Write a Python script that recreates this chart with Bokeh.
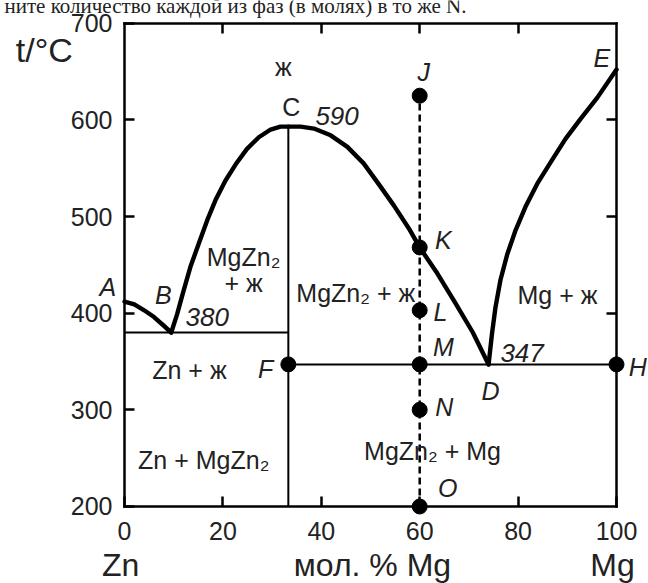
from bokeh.plotting import figure
from bokeh.models import Range1d, LinearAxis, FixedTicker, Label
from bokeh.embed import file_html
from bokeh.resources import INLINE

# ---- data (mol. % Mg, t / °C) ----
x_ticks = [0, 20, 40, 60, 80, 100]
t_ticks = [200, 300, 400, 500, 600, 700]
top_ticks = [20, 40, 60, 80]
right_ticks = [400, 500, 600]

# liquidus A-B (Zn side)
ab_x = [0, 2, 4, 6, 8, 9.5]
ab_t = [412, 409, 403, 396, 387, 380]
# liquidus B-C (MgZn2)
bc_x = [9.5, 10.7, 12.0, 13.4, 15.1, 16.8, 18.5, 20.5, 22.6, 24.9, 27.3, 29.7, 31.7, 33.3]
bc_t = [380, 399, 423, 448, 472, 496, 517, 537, 554, 570, 582, 590, 593, 593]
# liquidus C-D
cd_x = [33.3, 35.8, 38.5, 41.9, 45.3, 48.6, 51.6, 54.8, 58.0, 60, 63.6, 67.2, 70.8, 74]
cd_t = [593, 593, 591, 584, 572, 555, 534, 511, 486, 468, 441, 411, 380, 347]
# liquidus D-E (Mg side)
de_x = [74, 74.7, 75.4, 76.4, 77.8, 79.5, 81.5, 83.9, 86.6, 89.6, 92.7, 96.1, 100]
de_t = [347, 379, 406, 434, 461, 486, 510, 534, 556, 580, 601, 623, 652]

x_zn = 0
x_mgzn2 = 33.3
x_mg = 100
t_min = 200
t_max = 700
t_b = 380
t_c = 593
t_d = 347

# vertical section at 60 mol.% Mg
x_section = 60
sec_names = ["J", "K", "L", "M", "N", "O"]
sec_t = [625, 468, 403, 347, 300, 200]

FONT = "Liberation Sans"
TXT = "#222222"

W, H = 648, 583
# data window covering the whole canvas (axes drawn at fixed data positions)
x_lo, x_hi = -25.203, 106.504
t_lo, t_hi = 120.33, 723.48

p = figure(width=W, height=H,
           x_range=Range1d(x_lo, x_hi), y_range=Range1d(t_lo, t_hi),
           output_backend="svg", toolbar_location=None,
           x_axis_location=None, y_axis_location=None,
           min_border=0, min_border_left=0, min_border_right=0,
           min_border_top=0, min_border_bottom=0)
p.outline_line_color = None
p.grid.visible = False
p.background_fill_color = "white"
p.border_fill_color = "white"


def style_axis(ax, show):
    ax.axis_line_width = 2.5
    ax.axis_line_color = "black"
    ax.axis_line_cap = "square"
    ax.major_tick_in = 10
    ax.major_tick_out = 0
    ax.minor_tick_in = 0
    ax.minor_tick_out = 0
    ax.major_tick_line_width = 2.5
    ax.major_tick_line_color = "black"
    if show:
        ax.major_label_text_font = FONT
        ax.major_label_text_font_size = "25px"
        ax.major_label_text_color = TXT
    else:
        ax.major_label_text_font_size = "0px"
        ax.major_label_standoff = 0


bottom = LinearAxis(ticker=FixedTicker(ticks=x_ticks), fixed_location=t_min, bounds=(x_zn, x_mg))
style_axis(bottom, True)
bottom.major_label_standoff = 16
p.add_layout(bottom, "below")

left = LinearAxis(ticker=FixedTicker(ticks=t_ticks), fixed_location=x_zn, bounds=(t_min, t_max))
style_axis(left, True)
left.major_label_standoff = 12
p.add_layout(left, "left")

top = LinearAxis(ticker=FixedTicker(ticks=top_ticks), fixed_location=t_max, bounds=(x_zn, x_mg),
                 major_label_overrides={t: "" for t in top_ticks})
style_axis(top, False)
p.add_layout(top, "above")

right = LinearAxis(ticker=FixedTicker(ticks=right_ticks), fixed_location=x_mg, bounds=(t_min, t_max),
                   major_label_overrides={t: "" for t in right_ticks})
style_axis(right, False)
p.add_layout(right, "right")

# thin phase boundaries
p.line([x_zn, x_mgzn2], [t_b, t_b], line_width=2, color="black")
p.line([x_mgzn2, x_mgzn2], [t_min, t_c], line_width=2, color="black")
p.line([x_mgzn2, x_mg], [t_d, t_d], line_width=2, color="black")

# liquidus curves
for xs, ts in [(ab_x, ab_t), (bc_x, bc_t), (cd_x, cd_t), (de_x, de_t)]:
    p.line(xs, ts, line_width=4.4, color="black", line_join="round", line_cap="round")

# dashed section line
p.line([x_section, x_section], [min(sec_t), max(sec_t)], line_width=2.5,
       color="black", line_dash="7 4")

# points
p.scatter([x_section] * len(sec_t), sec_t, size=15, color="black")
p.scatter([x_mgzn2, x_mg], [t_d, t_d], size=15, color="black")


def lab(x, y, text, size="25px", style="italic", align="center", baseline="middle", font=FONT):
    p.add_layout(Label(x=x, y=y, text=text, text_font=font, text_font_size=size,
                       text_font_style=style, text_color=TXT,
                       text_align=align, text_baseline=baseline))


# point letters
lab(-3.4, 426.6, "A")
lab(7.9, 419.3, "B")
lab(33.9, 612.8, "C", style="normal")
lab(97.0, 663.5, "E")
lab(74.4, 319.0, "D")
lab(28.7, 341.8, "F")
lab(104.3, 343.9, "H")
sec_lab = {"J": (60.8, 649.0), "K": (64.8, 475.2), "L": (64.2, 400.7),
           "M": (64.8, 364.5), "N": (65.0, 302.8), "O": (65.7, 219.0)}
for n in sec_names:
    lab(sec_lab[n][0], sec_lab[n][1], n)

# temperatures
lab(12.4, 396.0, "380", size="26px", align="left")
lab(38.8, 603.5, "590", size="26px", align="left")
lab(76.4, 358.8, "347", size="26px", align="left")

# region labels
lab(32.3, 654.2, "ж", size="25px", style="normal")
lab(24.2, 457.6, "MgZn₂", size="25px", style="normal")
lab(24.2, 431.7, "+ ж", size="25px", style="normal")
lab(47.0, 420.4, "MgZn₂ + ж", size="25px", style="normal")
lab(88.0, 419.3, "Mg + ж", size="25px", style="normal")
lab(13.2, 340.7, "Zn + ж", size="25px", style="normal")
lab(16.1, 248.6, "Zn + MgZn₂", size="25px", style="normal")
lab(62.6, 257.9, "MgZn₂ + Mg", size="25px", style="normal")

# axis titles
lab(-16.3, 672.5, "t/°C", size="34px", style="normal")
lab(-0.8, 139.0, "Zn", size="32px", style="normal")
lab(50.4, 139.0, "мол. % Mg", size="32px", style="normal")
lab(99.2, 139.0, "Mg", size="32px", style="normal")

# cropped line of text above the chart
lab(-24.4, 718.3, "ните количество каждой из фаз (в молях) в то же N.", size="21px",
    style="normal", align="left", baseline="alphabetic", font="Liberation Serif")

open("out.html", "w").write(file_html(p, INLINE))
